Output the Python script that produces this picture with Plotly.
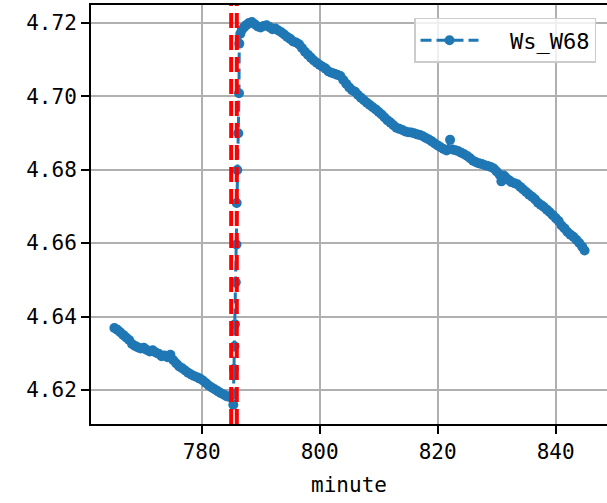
import plotly.graph_objects as go

# ---- data ----
minute = [
    765.2, 765.7, 766.2, 766.7, 767.2, 767.7, 768.2, 768.7, 769.2, 769.7,
    770.2, 770.7, 771.2, 771.7, 772.2, 772.7, 773.2, 773.7, 774.2, 774.7,
    775.2, 775.7, 776.2, 776.7, 777.2, 777.7, 778.2, 778.7, 779.2, 779.7,
    780.2, 780.7, 781.2, 781.7, 782.2, 782.7, 783.2, 783.7, 784.2, 784.7,
    785.1,
    785.36, 785.47, 785.56, 785.64, 785.78, 785.9, 785.93, 786.03, 786.2, 786.32, 786.37,
    786.55, 786.8, 787.2, 787.6, 788.0, 788.5, 789.0, 789.5, 790.0, 790.5,
    791.0, 791.5, 792.0, 792.5, 793.0, 793.5, 794.0, 794.5, 795.0, 795.5,
    796.0, 796.5, 797.0, 797.5, 798.0, 798.5, 799.0, 799.5, 800.0, 800.5,
    801.0, 801.5, 802.0, 802.5, 803.0, 803.5, 804.0, 804.5, 805.0, 805.5,
    806.0, 806.5, 807.0, 807.5, 808.0, 808.5, 809.0, 809.5, 810.0, 810.5,
    811.0, 811.5, 812.0, 812.5, 813.0, 813.5, 814.0, 814.5, 815.0, 815.5,
    816.0, 816.5, 817.0, 817.5, 818.0, 818.5, 819.0, 819.5, 820.0, 820.5,
    821.0, 821.5, 822.1, 822.5, 823.0, 823.5, 824.0, 824.5, 825.0, 825.5,
    826.0, 826.5, 827.0, 827.5, 828.0, 828.5, 829.0, 829.5, 830.0, 830.5,
    830.8, 831.2, 831.5, 832.0, 832.5, 833.0, 833.5, 834.0, 834.5, 835.0,
    835.5, 836.0, 836.5, 837.0, 837.5, 838.0, 838.5, 839.0, 839.5, 840.0,
    840.5, 841.0, 841.5, 842.0, 842.5, 843.0, 843.5, 844.0, 844.5, 844.9,
]
ws_w68 = [
    4.6369, 4.6364, 4.6357, 4.6350, 4.6343, 4.6336, 4.6325, 4.6320, 4.6316, 4.6313,
    4.6315, 4.6309, 4.6305, 4.6308, 4.6302, 4.6299, 4.6292, 4.6294, 4.6289, 4.6296,
    4.6281, 4.6272, 4.6264, 4.6259, 4.6253, 4.6247, 4.6242, 4.6238, 4.6235, 4.6231,
    4.6226, 4.6219, 4.6212, 4.6207, 4.6202, 4.6197, 4.6192, 4.6188, 4.6183, 4.6181,
    4.6186,
    4.6160, 4.6257, 4.6319, 4.6379, 4.6493, 4.6596, 4.6709, 4.6799, 4.6899, 4.7008, 4.7143,
    4.7170, 4.7180, 4.7188, 4.7194, 4.7199, 4.7202, 4.7196, 4.7190, 4.7187, 4.7191,
    4.7193, 4.7188, 4.7182, 4.7184, 4.7179, 4.7174, 4.7168, 4.7161, 4.7156, 4.7149,
    4.7146, 4.7141, 4.7131, 4.7121, 4.7113, 4.7105, 4.7097, 4.7091, 4.7085, 4.7080,
    4.7075, 4.7067, 4.7064, 4.7061, 4.7058, 4.7055, 4.7044, 4.7034, 4.7024, 4.7016,
    4.7012, 4.7003, 4.6996, 4.6989, 4.6982, 4.6976, 4.6970, 4.6964, 4.6957, 4.6950,
    4.6942, 4.6934, 4.6928, 4.6921, 4.6914, 4.6911, 4.6908, 4.6904, 4.6902, 4.6901,
    4.6899, 4.6896, 4.6894, 4.6891, 4.6886, 4.6882, 4.6877, 4.6871, 4.6866, 4.6861,
    4.6856, 4.6852, 4.6881, 4.6855, 4.6853, 4.6850, 4.6846, 4.6842, 4.6837, 4.6831,
    4.6824, 4.6820, 4.6817, 4.6815, 4.6812, 4.6810, 4.6807, 4.6803, 4.6795, 4.6786,
    4.6768, 4.6784, 4.6779, 4.6772, 4.6766, 4.6763, 4.6760, 4.6753, 4.6746, 4.6739,
    4.6732, 4.6726, 4.6719, 4.6710, 4.6704, 4.6698, 4.6691, 4.6684, 4.6676, 4.6668,
    4.6660, 4.6648, 4.6640, 4.6630, 4.6623, 4.6617, 4.6609, 4.6600, 4.6590, 4.6580,
]
event_lines = [785.0, 785.95]
x_ticks = [780, 800, 820, 840]
y_ticks = [4.62, 4.64, 4.66, 4.68, 4.70, 4.72]
series_name = "Ws_W68"

FONT = "DejaVu Sans Mono, monospace"

fig = go.Figure()
fig.add_trace(go.Scatter(
    x=minute, y=ws_w68, mode="lines+markers",
    name="\u00a0\u00a0" + series_name,
    line=dict(color="#1f77b4", width=3, dash="11px,5px"),
    marker=dict(color="#1f77b4", size=10),
))
for xv in event_lines:
    fig.add_shape(type="line", xref="x", yref="paper", x0=xv, x1=xv, y0=0, y1=1,
                  line=dict(color="red", width=4, dash="15px,7px"), layer="above")

fig.update_layout(
    width=607, height=503,
    margin=dict(l=91, r=0, t=5, b=79),
    paper_bgcolor="white", plot_bgcolor="white",
    font=dict(family=FONT, size=21, color="black"),
    showlegend=True,
    legend=dict(x=0.9787, xanchor="right", y=0.969, yanchor="top",
                bgcolor="rgba(255,255,255,0.8)", bordercolor="#cccccc", borderwidth=1.5,
                font=dict(family=FONT, size=22), itemwidth=58),
)
fig.update_xaxes(
    range=[761.24, 848.7], tickvals=x_ticks, ticktext=[str(v) for v in x_ticks],
    showgrid=True, gridcolor="#b0b0b0", gridwidth=2,
    showline=True, linecolor="black", linewidth=2, mirror=True,
    ticks="outside", ticklen=8, tickwidth=2, tickcolor="black",
    zeroline=False, automargin=False,
    title=dict(text="minute", font=dict(family=FONT, size=21), standoff=14),
)
fig.update_yaxes(
    range=[4.61074, 4.72482], tickvals=y_ticks, ticktext=[f"{v:.2f}" for v in y_ticks],
    showgrid=True, gridcolor="#b0b0b0", gridwidth=2,
    showline=True, linecolor="black", linewidth=2, mirror=False,
    ticks="outside", ticklen=8, tickwidth=2, tickcolor="black",
    zeroline=False, automargin=False,
)

fig.write_html(
    "out.html",
    config={"displayModeBar": False},
    post_script="document.body.style.margin='0';document.body.style.overflow='hidden';",
)
